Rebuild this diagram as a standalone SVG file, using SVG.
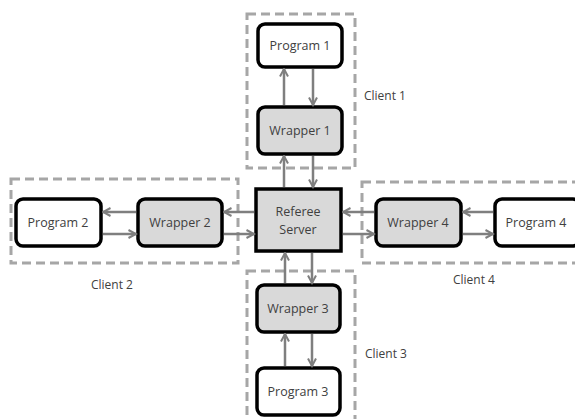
<svg xmlns="http://www.w3.org/2000/svg" width="575" height="419" viewBox="0 0 575 419">
  <style>
    .client { fill: none; stroke: #a6a6a6; stroke-width: 3; stroke-dasharray: 9 5; }
    .prog { fill: #ffffff; stroke: #000000; stroke-width: 3.5; }
    .wrap { fill: #d9d9d9; stroke: #000000; stroke-width: 3.5; }
    .server { fill: #d9d9d9; stroke: #000000; stroke-width: 3.5; }
    .lbl { font-family: "Open Sans", "Liberation Sans", sans-serif; font-size: 12.5px; fill: #404040; text-anchor: middle; }
    .cl { font-family: "Open Sans", "Liberation Sans", sans-serif; font-size: 12px; fill: #404040; }
    .conn line { stroke: #7f7f7f; stroke-width: 2.5; marker-end: url(#head); }
  </style>
  <defs>
    <marker id="head" viewBox="0 0 10 10" refX="8.5" refY="5" markerWidth="4" markerHeight="4" orient="auto" markerUnits="strokeWidth">
      <path d="M1,1 L8.5,5 L1,9" fill="none" stroke="#7f7f7f" stroke-width="2"/>
    </marker>
  </defs>

  <!-- client boundaries -->
  <g id="client1">
    <rect class="client" x="247" y="14" width="108" height="154"/>
    <text class="cl" x="364" y="100">Client 1</text>
  </g>
  <g id="client2">
    <rect class="client" x="11" y="179" width="227" height="84"/>
    <text class="cl" x="91" y="289">Client 2</text>
  </g>
  <g id="client3">
    <rect class="client" x="247" y="271" width="108" height="160"/>
    <text class="cl" x="365" y="358">Client 3</text>
  </g>
  <g id="client4">
    <rect class="client" x="362" y="182" width="230" height="81"/>
    <text class="cl" x="453" y="284">Client 4</text>
  </g>

  <!-- nodes -->
  <g id="program1">
    <rect class="prog" x="258" y="24" width="84" height="43" rx="7"/>
    <text class="lbl" x="300" y="50">Program 1</text>
  </g>
  <g id="wrapper1">
    <rect class="wrap" x="258" y="107" width="84" height="47" rx="7"/>
    <text class="lbl" x="300" y="135">Wrapper 1</text>
  </g>
  <g id="referee">
    <rect class="server" x="256" y="189" width="85" height="62"/>
    <text class="lbl" x="298" y="216">Referee</text>
    <text class="lbl" x="298" y="234">Server</text>
  </g>
  <g id="wrapper2">
    <rect class="wrap" x="138" y="199" width="84" height="47" rx="7"/>
    <text class="lbl" x="180" y="227">Wrapper 2</text>
  </g>
  <g id="program2">
    <rect class="prog" x="16" y="199" width="85" height="47" rx="7"/>
    <text class="lbl" x="58" y="227">Program 2</text>
  </g>
  <g id="wrapper4">
    <rect class="wrap" x="376" y="199" width="85" height="47" rx="7"/>
    <text class="lbl" x="418" y="227">Wrapper 4</text>
  </g>
  <g id="program4">
    <rect class="prog" x="495" y="199" width="85" height="47" rx="7"/>
    <text class="lbl" x="536" y="227">Program 4</text>
  </g>
  <g id="wrapper3">
    <rect class="wrap" x="257" y="285" width="83" height="47" rx="7"/>
    <text class="lbl" x="298" y="313">Wrapper 3</text>
  </g>
  <g id="program3">
    <rect class="prog" x="257" y="368" width="83" height="47" rx="7"/>
    <text class="lbl" x="298" y="396">Program 3</text>
  </g>

  <!-- connectors -->
  <g id="connectors" class="conn">
    <line x1="284" y1="105" x2="284" y2="69"/>
    <line x1="313" y1="69" x2="313" y2="105"/>
    <line x1="284" y1="187" x2="284" y2="156"/>
    <line x1="313" y1="156" x2="313" y2="187"/>
    <line x1="285" y1="283" x2="285" y2="253"/>
    <line x1="312" y1="253" x2="312" y2="283"/>
    <line x1="285" y1="366" x2="285" y2="334"/>
    <line x1="312" y1="334" x2="312" y2="366"/>
    <line x1="254" y1="212" x2="224" y2="212"/>
    <line x1="224" y1="234" x2="254" y2="234"/>
    <line x1="136" y1="212" x2="103" y2="212"/>
    <line x1="103" y1="234" x2="136" y2="234"/>
    <line x1="374" y1="212" x2="343" y2="212"/>
    <line x1="343" y1="234" x2="374" y2="234"/>
    <line x1="493" y1="212" x2="463" y2="212"/>
    <line x1="463" y1="234" x2="493" y2="234"/>
  </g>
</svg>
